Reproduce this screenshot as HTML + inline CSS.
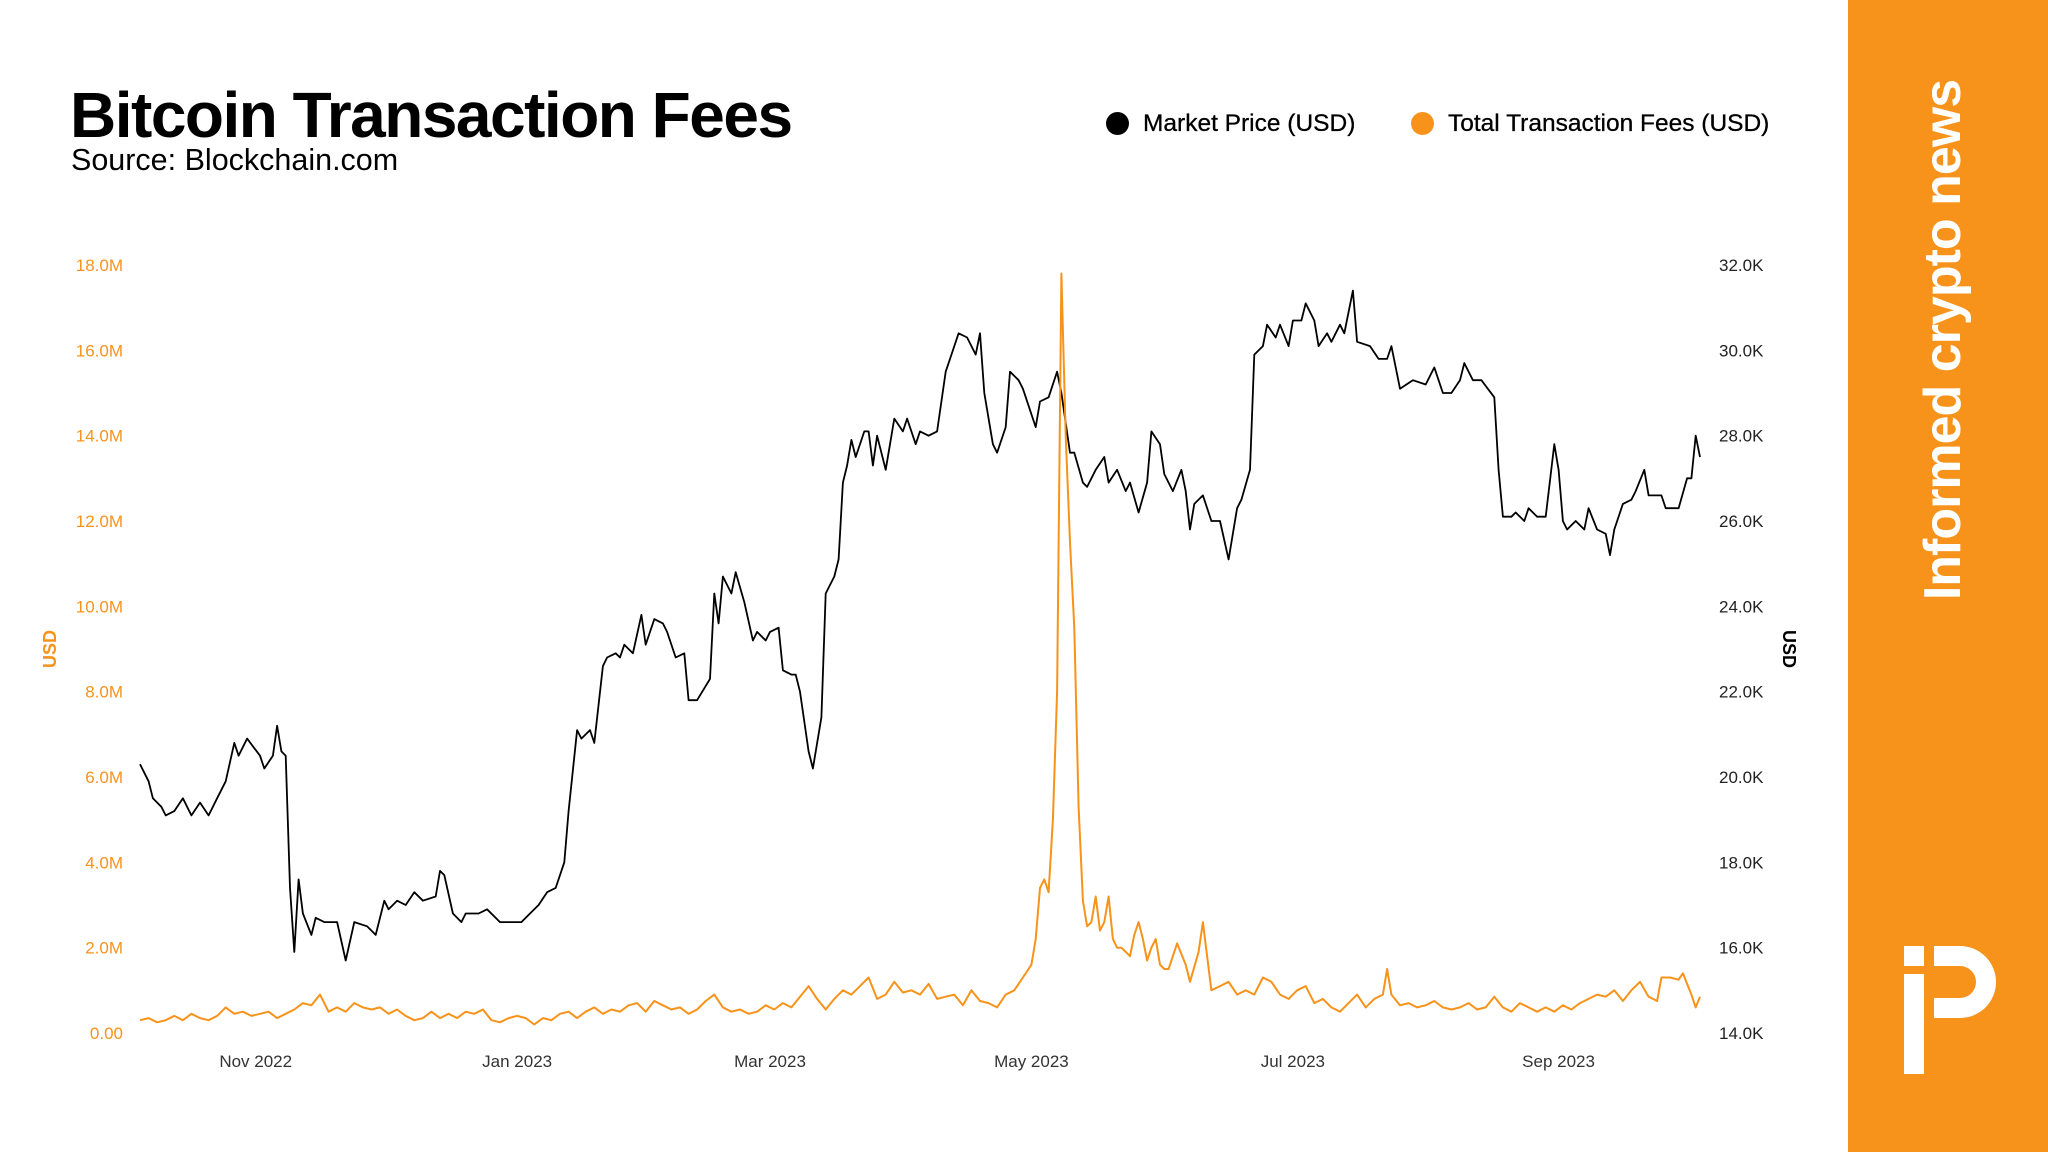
<!DOCTYPE html>
<html><head><meta charset="utf-8"><style>
html,body{margin:0;padding:0;background:#fff;}
body{width:2048px;height:1152px;position:relative;overflow:hidden;font-family:"Liberation Sans",sans-serif;}
.t{position:absolute;white-space:nowrap;}
</style></head><body>
<div class="t" style="left:70px;top:78px;font-size:64px;font-weight:bold;color:#000;letter-spacing:-1.5px;">Bitcoin Transaction Fees</div>
<div class="t" style="left:71px;top:143px;font-size:30.5px;color:#000;">Source: Blockchain.com</div>
<div class="t" style="left:1106px;top:110px;font-size:24.5px;color:#000;-webkit-text-stroke:0.3px #000;"><span style="display:inline-block;width:23px;height:23px;border-radius:50%;background:#000;vertical-align:-4px;margin-right:14px;"></span>Market Price (USD)</div>
<div class="t" style="left:1411px;top:110px;font-size:24.5px;color:#000;-webkit-text-stroke:0.3px #000;"><span style="display:inline-block;width:23px;height:23px;border-radius:50%;background:#f7931a;vertical-align:-4px;margin-right:14px;"></span>Total Transaction Fees (USD)</div>
<div style="position:absolute;left:1848px;top:0;width:200px;height:1152px;background:#f7931a;"></div>
<div class="t" style="left:1943px;top:340px;transform:translate(-50%,-50%) rotate(-90deg);font-size:52px;font-weight:bold;color:#fff;letter-spacing:-1px;">Informed crypto news</div>
<svg style="position:absolute;left:1900px;top:940px" width="110" height="140" viewBox="0 0 110 140">
<rect x="4" y="6" width="20" height="20" fill="#fff"/>
<rect x="4" y="34" width="20" height="100" fill="#fff"/>
<path d="M34 6 H60 A36 36 0 0 1 60 78 H34 V58 H60 A16 16 0 0 0 60 26 H34 Z" fill="#fff"/>
</svg>
<svg id="chart" style="position:absolute;left:0;top:0" width="1848" height="1152"></svg>
<script>
const xLabels=["Nov 2022","Jan 2023","Mar 2023","May 2023","Jul 2023","Sep 2023"];
const xLabelDays=[27,88,147,208,269,331];
const feeTicks=[0,2,4,6,8,10,12,14,16,18];
const feeTickLabels=["0.00","2.0M","4.0M","6.0M","8.0M","10.0M","12.0M","14.0M","16.0M","18.0M"];
const priceTicks=[14,16,18,20,22,24,26,28,30,32];
const priceTickLabels=["14.0K","16.0K","18.0K","20.0K","22.0K","24.0K","26.0K","28.0K","30.0K","32.0K"];
const priceDays=[0,2,3,5,6,8,10,12,14,16,18,20,22,23,25,28,29,31,32,33,34,35,36,37,38,40,41,43,46,48,50,53,55,57,58,60,62,64,66,69,70,71,73,75,76,79,81,84,87,89,91,93,95,97,99,100,102,103,105,106,108,109,111,112,113,115,117,118,120,122,123,125,127,128,130,133,134,135,136,138,139,141,143,144,146,147,149,150,152,153,154,156,157,159,160,162,163,164,165,166,167,169,170,171,172,174,176,178,179,181,182,184,186,188,190,191,193,195,196,197,199,200,202,203,205,206,209,210,212,214,215,217,218,220,221,223,225,226,228,230,231,233,235,236,238,239,241,243,244,245,246,248,250,252,254,256,257,259,260,262,263,265,266,268,269,271,272,274,275,277,278,280,281,283,284,287,289,291,292,294,297,300,302,304,306,308,309,311,313,316,317,318,320,321,323,324,326,328,330,331,332,333,335,337,338,340,342,343,344,346,348,349,351,352,355,356,359,361,362,363,364];
const priceVals=[20.3,19.9,19.5,19.3,19.1,19.2,19.5,19.1,19.4,19.1,19.5,19.9,20.8,20.5,20.9,20.5,20.2,20.5,21.2,20.6,20.5,17.4,15.9,17.6,16.8,16.3,16.7,16.6,16.6,15.7,16.6,16.5,16.3,17.1,16.9,17.1,17.0,17.3,17.1,17.2,17.8,17.7,16.8,16.6,16.8,16.8,16.9,16.6,16.6,16.6,16.8,17.0,17.3,17.4,18.0,19.2,21.1,20.9,21.1,20.8,22.6,22.8,22.9,22.8,23.1,22.9,23.8,23.1,23.7,23.6,23.4,22.8,22.9,21.8,21.8,22.3,24.3,23.6,24.7,24.3,24.8,24.1,23.2,23.4,23.2,23.4,23.5,22.5,22.4,22.4,22.0,20.6,20.2,21.4,24.3,24.7,25.1,26.9,27.3,27.9,27.5,28.1,28.1,27.3,28.0,27.2,28.4,28.1,28.4,27.8,28.1,28.0,28.1,29.5,30.1,30.4,30.3,29.9,30.4,29.0,27.8,27.6,28.2,29.5,29.3,29.1,28.2,28.8,28.9,29.5,29.0,27.6,27.6,26.9,26.8,27.2,27.5,26.9,27.2,26.7,26.9,26.2,26.9,28.1,27.8,27.1,26.7,27.2,26.7,25.8,26.4,26.6,26.0,26.0,25.1,26.3,26.5,27.2,29.9,30.1,30.6,30.3,30.6,30.1,30.7,30.7,31.1,30.7,30.1,30.4,30.2,30.6,30.4,31.4,30.2,30.1,29.8,29.8,30.1,29.1,29.3,29.2,29.6,29.0,29.0,29.3,29.7,29.3,29.3,28.9,27.2,26.1,26.1,26.2,26.0,26.3,26.1,26.1,27.8,27.2,26.0,25.8,26.0,25.8,26.3,25.8,25.7,25.2,25.8,26.4,26.5,26.7,27.2,26.6,26.6,26.3,26.3,27.0,27.0,28.0,27.5];
const feeDays=[0,2,4,6,8,10,12,14,16,18,20,22,24,26,28,30,32,34,36,38,40,42,44,46,48,50,52,54,56,58,60,62,64,66,68,70,72,74,76,78,80,82,84,86,88,90,92,94,96,98,100,102,104,106,108,110,112,114,116,118,120,122,124,126,128,130,132,134,136,138,140,142,144,146,148,150,152,154,156,158,160,162,164,166,168,170,172,174,176,178,180,182,184,186,188,190,192,194,196,198,200,202,204,206,208,209,210,211,212,213,214,215,216,217,218,219,220,221,222,223,224,225,226,227,228,229,230,231,232,233,234,235,236,237,238,239,240,242,244,245,247,248,249,250,252,254,256,258,260,262,264,266,268,270,272,274,276,278,280,282,284,286,288,290,291,292,294,296,298,300,302,304,306,308,310,312,314,316,318,320,322,324,326,328,330,332,334,336,338,340,342,344,346,348,350,352,354,355,357,359,360,362,363,364];
const feeVals=[0.3,0.35,0.25,0.3,0.4,0.3,0.45,0.35,0.3,0.4,0.6,0.45,0.5,0.4,0.45,0.5,0.35,0.45,0.55,0.7,0.65,0.9,0.5,0.6,0.5,0.7,0.6,0.55,0.6,0.45,0.55,0.4,0.3,0.35,0.5,0.35,0.45,0.35,0.5,0.45,0.55,0.3,0.25,0.35,0.4,0.35,0.2,0.35,0.3,0.45,0.5,0.35,0.5,0.6,0.45,0.55,0.5,0.65,0.7,0.5,0.75,0.65,0.55,0.6,0.45,0.55,0.75,0.9,0.6,0.5,0.55,0.45,0.5,0.65,0.55,0.7,0.6,0.85,1.1,0.8,0.55,0.8,1.0,0.9,1.1,1.3,0.8,0.9,1.2,0.95,1.0,0.9,1.15,0.8,0.85,0.9,0.65,1.0,0.75,0.7,0.6,0.9,1.0,1.3,1.6,2.2,3.4,3.6,3.3,5.0,8.0,17.8,14.0,11.5,9.5,5.3,3.1,2.5,2.6,3.2,2.4,2.6,3.2,2.2,2.0,2.0,1.9,1.8,2.3,2.6,2.2,1.7,2.0,2.2,1.6,1.5,1.5,2.1,1.6,1.2,1.9,2.6,1.8,1.0,1.1,1.2,0.9,1.0,0.9,1.3,1.2,0.9,0.8,1.0,1.1,0.7,0.8,0.6,0.5,0.7,0.9,0.6,0.8,0.9,1.5,0.9,0.65,0.7,0.6,0.65,0.75,0.6,0.55,0.6,0.7,0.55,0.6,0.85,0.6,0.5,0.7,0.6,0.5,0.6,0.5,0.65,0.55,0.7,0.8,0.9,0.85,1.0,0.75,1.0,1.2,0.85,0.75,1.3,1.3,1.25,1.4,0.9,0.6,0.85];

const NS="http://www.w3.org/2000/svg";
const svg=document.getElementById('chart');
const X0=140,X1=1700,Y0=1033,Y1=265,D0=0,D1=364;
function xScale(d){return X0+(d-D0)/(D1-D0)*(X1-X0);}
function yFee(v){return Y0-(v/18)*(Y0-Y1);}
function yPrice(v){return Y0-((v-14)/18)*(Y0-Y1);}
function mk(tag,attrs){const e=document.createElementNS(NS,tag);for(const k in attrs)e.setAttribute(k,attrs[k]);svg.appendChild(e);return e;}
function txt(s,attrs){const e=mk('text',attrs);e.textContent=s;return e;}

feeTicks.forEach((v,i)=>{
  const t=txt(feeTickLabels[i],{x:123,y:yFee(v)+6,'text-anchor':'end','font-size':17,fill:'#f7931a','font-family':'Liberation Sans, sans-serif'});
  
  
});
priceTicks.forEach((v,i)=>{
  const t=txt(priceTickLabels[i],{x:1719,y:yPrice(v)+6,'text-anchor':'start','font-size':17,fill:'#222','font-family':'Liberation Sans, sans-serif'});
  
  
});
xLabels.forEach((s,i)=>{
  const t=txt(s,{x:xScale(xLabelDays[i]),y:1067,'text-anchor':'middle','font-size':17,fill:'#333','font-family':'Liberation Sans, sans-serif'});
  
  
});
let lt=txt('USD',{x:0,y:0,transform:'translate(56,649) rotate(-90)','text-anchor':'middle','font-size':18,'font-weight':'bold',fill:'#f7931a','font-family':'Liberation Sans, sans-serif'});


let rt=txt('USD',{x:0,y:0,transform:'translate(1783,649) rotate(90)','text-anchor':'middle','font-size':18,'font-weight':'bold',fill:'#000','font-family':'Liberation Sans, sans-serif'});



const pp=priceDays.map((d,i)=>xScale(d).toFixed(1)+','+yPrice(priceVals[i]).toFixed(1)).join(' ');
const pl=mk('polyline',{points:pp,fill:'none',stroke:'#000','stroke-width':1.8,'stroke-linejoin':'round'});


const fp=feeDays.map((d,i)=>xScale(d).toFixed(1)+','+yFee(feeVals[i]).toFixed(1)).join(' ');
const fl=mk('polyline',{points:fp,fill:'none',stroke:'#f7931a','stroke-width':2,'stroke-linejoin':'round'});


</script>
</body></html>
